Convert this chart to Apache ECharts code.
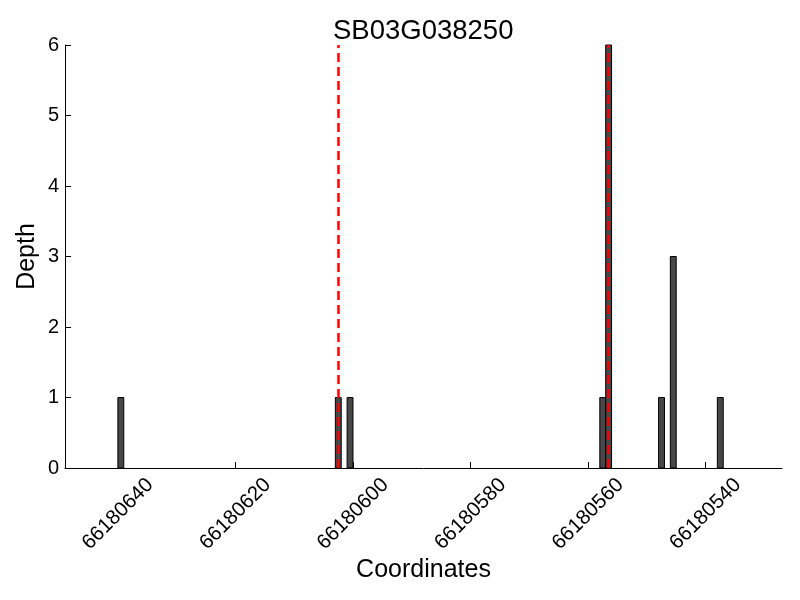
<!DOCTYPE html>
<html>
<head>
<meta charset="utf-8">
<script src="https://cdn.jsdelivr.net/npm/echarts@6/dist/echarts.min.js"></script>
<style>html,body{margin:0;padding:0;background:#fff}#c{width:800px;height:600px}</style>
</head>
<body>
<div id="c"></div>
<script>
var title = 'SB03G038250';
var positions = [66180639, 66180602, 66180600, 66180557, 66180556, 66180547, 66180545, 66180537];
var depths = [1, 1, 1, 1, 6, 1, 3, 1];
var markers = [66180602.5, 66180556.5];
var xTicks = [66180540, 66180560, 66180580, 66180600, 66180620, 66180640];
var xMin = 66180527, xMax = 66180649;

var data = positions.map(function (p, i) { return [p, depths[i]]; });
var FONT = 'Liberation Sans, Arial, sans-serif';
var chart = echarts.init(document.getElementById('c'), null, {renderer: 'canvas'});
chart.setOption({
  animation: false,
  backgroundColor: '#fff',
  title: {
    text: title, left: 328, top: 12,
    textStyle: {fontFamily: FONT, fontSize: 27.5, fontWeight: 'normal', color: '#000'}
  },
  grid: {left: 65, right: 18, top: 45, bottom: 132},
  xAxis: {
    type: 'value', inverse: true, min: xMin, max: xMax,
    name: 'Coordinates', nameLocation: 'middle', nameGap: 90, nameMoveOverlap: false,
    nameTextStyle: {fontFamily: FONT, fontSize: 25, color: '#000'},
    axisLine: {show: true, onZero: false, lineStyle: {color: '#000', width: 1}},
    axisTick: {show: true, inside: true, length: 6, customValues: xTicks, lineStyle: {color: '#000'}},
    axisLabel: {customValues: xTicks, rotate: 45, align: 'center', verticalAlign: 'middle', margin: 46,
      fontFamily: FONT, fontSize: 20.5, color: '#000', formatter: function (v) { return String(v); }},
    splitLine: {show: false}
  },
  yAxis: {
    type: 'value', min: 0, max: 6, interval: 1,
    name: 'Depth', nameLocation: 'middle', nameGap: 25, nameMoveOverlap: false,
    nameTextStyle: {fontFamily: FONT, fontSize: 25, color: '#000'},
    axisLine: {show: true, lineStyle: {color: '#000', width: 1}},
    axisTick: {show: true, inside: true, length: 6, lineStyle: {color: '#000'}},
    axisLabel: {fontFamily: FONT, fontSize: 20, color: '#000', margin: 6},
    splitLine: {show: false}
  },
  series: [{
    type: 'custom',
    data: data,
    renderItem: function (params, api) {
      var p = api.value(0), d = api.value(1);
      var a = api.coord([p, d]);
      var b = api.coord([p + 1, 0]);
      var x = Math.min(a[0], b[0]), w = Math.abs(a[0] - b[0]);
      return {type: 'rect', shape: {x: x, y: a[1], width: w, height: b[1] - a[1]},
        style: {fill: '#474747', stroke: '#000', lineWidth: 1}};
    },
    z: 2
  }, {
    type: 'line', data: [], z: 5,
    markLine: {
      silent: true, symbol: ['none', 'none'], label: {show: false},
      lineStyle: {color: '#ff0000', type: [9, 5], width: 2.5},
      data: markers.map(function (m) { return {xAxis: m}; })
    }
  }]
});
</script>
</body>
</html>
